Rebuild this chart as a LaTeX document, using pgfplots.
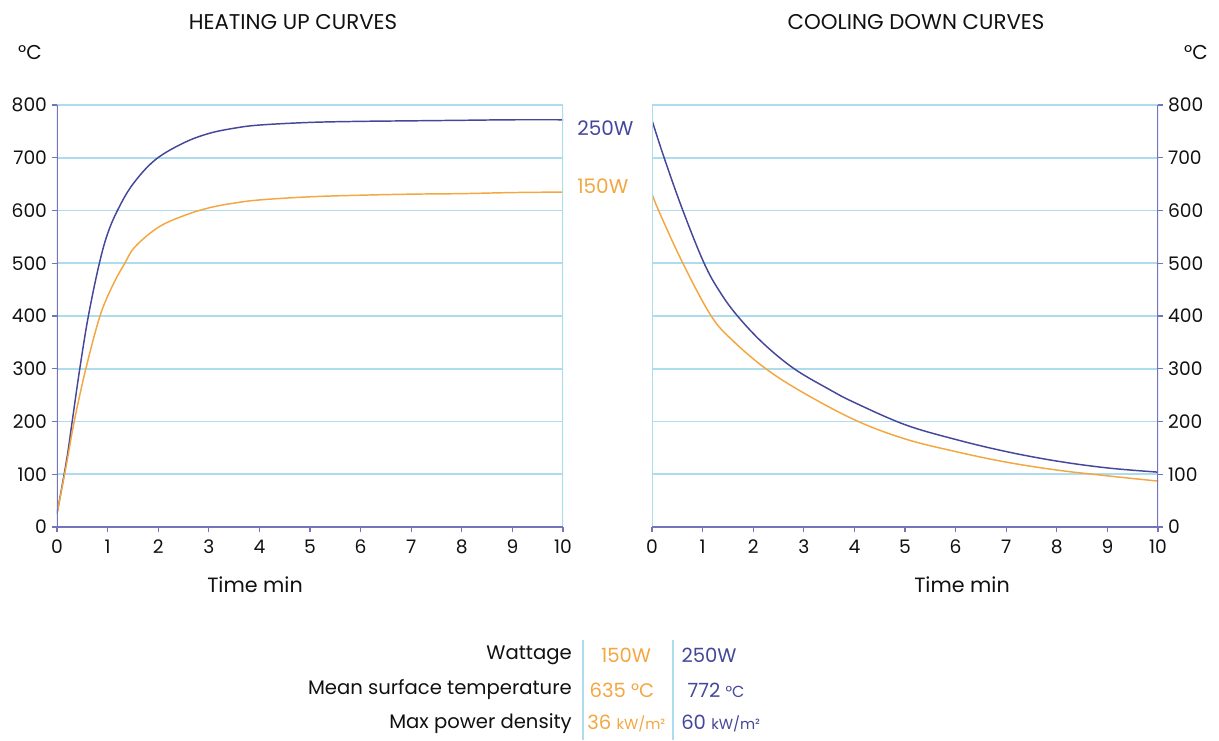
\documentclass[border=0pt]{standalone}
\usepackage{fontspec}
\setmainfont{Poppins}
\usepackage{pgfplots}
\pgfplotsset{compat=1.18}
\definecolor{curveblue}{HTML}{45479A}
\definecolor{curveorange}{HTML}{F4A640}
\definecolor{spine}{HTML}{7375BC}
\definecolor{gridblue}{HTML}{ADDCEE}
\definecolor{txt}{HTML}{111111}
\pgfplotsset{mystyle/.style={
  scale only axis, width=379.5pt, height=316.5pt,
  xmin=0, xmax=10, ymin=0, ymax=800,
  xtick={0,1,...,10}, ytick={0,100,...,800},
  axis line style={draw=none},
  ymajorgrids, grid style={gridblue, line width=1.4pt},
  tick style={spine, line width=0.9pt}, tick align=outside, major tick length=4pt,
  xtick pos=bottom,
  xticklabel style={yshift=-2pt},
  tick label style={font=\fontsize{14}{14}\selectfont, text=txt},
  /pgf/number format/assume math mode=true,
  every axis plot/.append style={line width=1.1pt, smooth, tension=0.6, no marks},
}}
\begin{document}
\begin{tikzpicture}
\useasboundingbox (0,0) rectangle (914.25pt,555pt);
% Heating
\begin{axis}[mystyle, at={(42.75pt,159.75pt)}, anchor=south west, ytick pos=left]
\addplot[curveblue] coordinates {(0,25)(0.19,127)(0.30,200)(0.45,300)(0.62,400)(0.83,497)(1.0,556)(1.21,603)(1.5,650)(1.94,696)(2.5,728)(3,746)(3.5,756)(4,762)(5,767)(6,769)(7,770)(8,771)(9,772)(10,772)};
\addplot[curveorange] coordinates {(0,25)(0.19,120)(0.34,200)(0.57,300)(0.85,400)(1.1,458)(1.34,500)(1.54,531)(2,568)(2.5,590)(3,605)(3.5,614)(4,620)(5,626)(6,629)(7,631)(8,632)(9,634)(10,635)};
\draw[gridblue, line width=1.4pt] (rel axis cs:1,0) -- (rel axis cs:1,1);
\draw[spine, line width=1.3pt] (rel axis cs:0,1) -- (rel axis cs:0,0) -- (rel axis cs:1,0);
\end{axis}
% Cooling
\begin{axis}[mystyle, at={(489pt,159.75pt)}, anchor=south west, ytick pos=right, yticklabel pos=right]
\addplot[curveblue] coordinates {(0,771)(0.24,700)(0.61,600)(1.03,500)(1.34,446)(1.69,400)(2.2,348)(2.81,300)(3.5,261)(4,236)(5,194)(6,166)(7,143)(8,125)(9,112)(10,104)};
\addplot[curveorange] coordinates {(0,632)(0.13,600)(0.61,500)(1.17,400)(1.6,353)(2.25,300)(3,254)(4.03,202)(5,167)(6,143)(7,123)(8,108)(9,97)(10,87)};
\draw[gridblue, line width=1.4pt] (rel axis cs:0,0) -- (rel axis cs:0,1);
\draw[spine, line width=1.3pt] (rel axis cs:1,1) -- (rel axis cs:1,0) -- (rel axis cs:0,0);
\end{axis}
\begin{scope}[x=0.75pt, y=0.75pt, every node/.style={inner sep=0pt, text=txt}]
\node[font=\fontsize{16}{16}\selectfont] at (293,718) {HEATING UP CURVES};
\node[font=\fontsize{16}{16}\selectfont] at (916,718) {COOLING DOWN CURVES};
\node[font=\fontsize{15}{15}\selectfont] at (30,687) {°C};
\node[font=\fontsize{15}{15}\selectfont] at (1196,687) {°C};
\node[font=\fontsize{15.5}{15.5}\selectfont] at (255,155) {Time min};
\node[font=\fontsize{15.5}{15.5}\selectfont] at (962,155) {Time min};
\node[font=\fontsize{15}{15}\selectfont, anchor=west, text=curveblue] at (577,612) {250W};
\node[font=\fontsize{15}{15}\selectfont, anchor=west, text=curveorange] at (577,554) {150W};
% table
\draw[gridblue, line width=0.9pt] (583,100) -- (583,0);
\draw[gridblue, line width=0.9pt] (673,100) -- (673,0);
\begin{scope}[every node/.append style={font=\fontsize{14.7}{14.7}\selectfont}]
\node[anchor=east] at (572,85) {Wattage};
\node[anchor=east] at (572,50) {Mean surface temperature};
\node[anchor=east] at (572,16) {Max power density};
\node[text=curveorange] at (626,85) {150W};
\node[text=curveblue] at (709,85) {250W};
\node[text=curveorange] at (622,50) {635 °C};
\node[text=curveblue] at (716,50) {772 {\fontsize{12}{12}\selectfont °C}};
\node[text=curveorange, anchor=west] at (587,16) {36 {\fontsize{11}{11}\selectfont kW/m²}};
\node[text=curveblue, anchor=west] at (681,16) {60 {\fontsize{11}{11}\selectfont kW/m²}};
\end{scope}
\end{scope}
\end{tikzpicture}
\end{document}
